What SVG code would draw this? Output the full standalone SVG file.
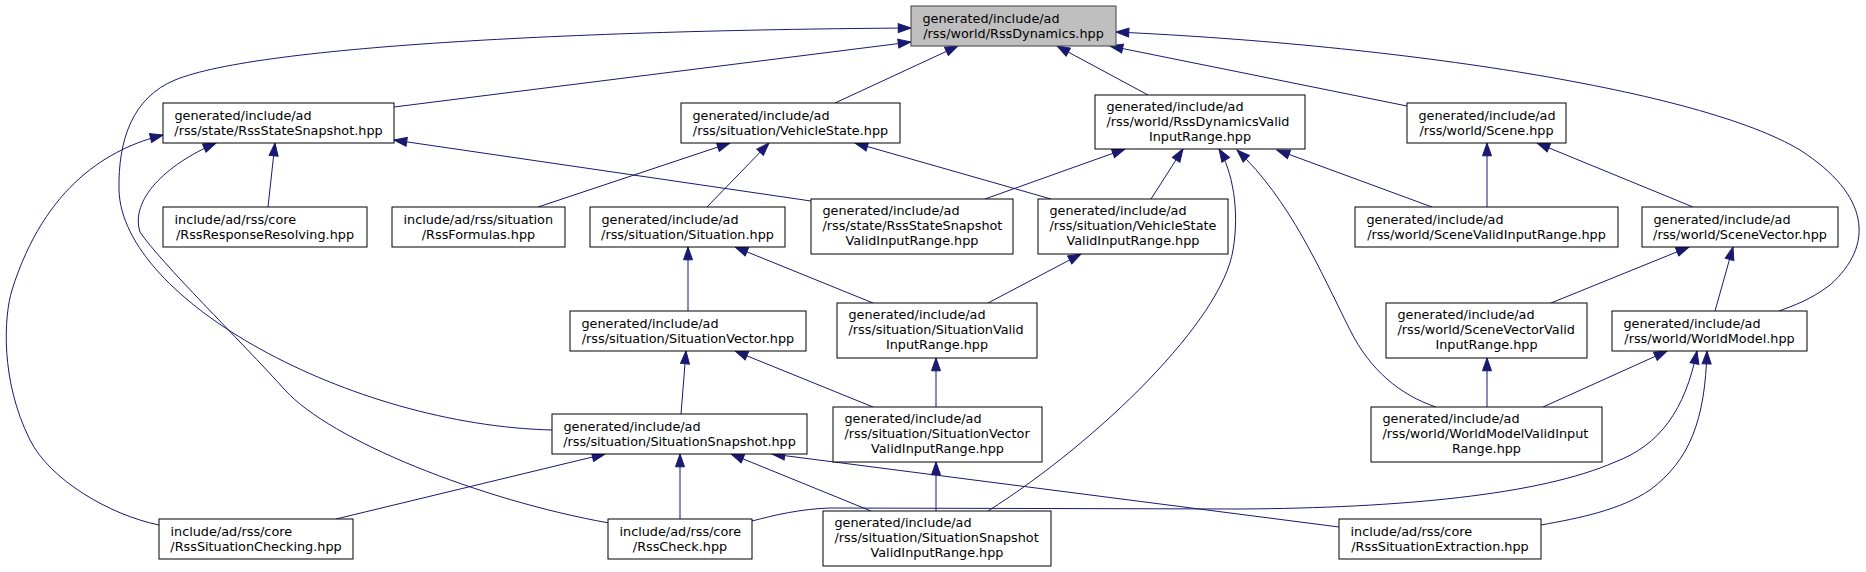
<svg xmlns="http://www.w3.org/2000/svg" width="1866" height="572" viewBox="0 0 1866 572">
<style>
.n rect{fill:#ffffff;stroke:#000000;stroke-width:1}
.n.root rect{fill:#bfbfbf;stroke:#404040}
text{font-family:"DejaVu Sans","Liberation Sans",sans-serif;font-size:12.8px;fill:#000000}
.m{text-anchor:middle}
.e path{fill:none;stroke:#191970;stroke-width:1;marker-start:url(#ah)}
</style>
<defs>
<marker id="ah" markerUnits="userSpaceOnUse" viewBox="-14 -6 15 12" refX="0" refY="0" markerWidth="15" markerHeight="12" orient="auto-start-reverse">
<path d="M0,0 L-12.8,-4.5 L-12.8,4.5 z" fill="#191970" stroke="#191970" stroke-width="1"/>
</marker>
</defs>
<rect width="1866" height="572" fill="#ffffff"/>
<g id="edges" class="e">
<path d="M911,28 C600,30 260,45 175,80 C132.5,97.5 118,140 119,190 C122,300 350,425 552,430"/>
<path d="M911,42 L394,107"/>
<path d="M958,46 L835,103"/>
<path d="M1057,46 L1148,95"/>
<path d="M1110,46 L1407,106"/>
<path d="M1116,32 C1400,45 1700,90 1800,150 C1870,195 1875,245 1830,285 C1810,300 1795,305 1779,311"/>
<path d="M275,143 L268,207"/>
<path d="M163,135 C110,148 45,185 12,290 C4,316 0,380 30,440 C50,480 110,515 159,525"/>
<path d="M216,143 C165,165 130,200 140,232 C160,262 240,340 285,390 C330,440 480,500 609,523"/>
<path d="M394,140 L811,201"/>
<path d="M730,143 L538,207"/>
<path d="M769,143 L707,207"/>
<path d="M855,143 L1051,199"/>
<path d="M1125,149 L985,199"/>
<path d="M1183,149 L1151,199"/>
<path d="M1219,149 C1232,170 1240,210 1233,250 C1222,320 1100,440 988,511"/>
<path d="M1237,150 C1290,200 1320,270 1350,330 C1370,370 1400,395 1436,407"/>
<path d="M1277,150 L1432,207"/>
<path d="M1487,143 L1487,207"/>
<path d="M1537,143 L1693,207"/>
<path d="M688,247 L688,311"/>
<path d="M735,247 L873,303"/>
<path d="M1081,254 L988,303"/>
<path d="M1689,247 L1551,303"/>
<path d="M1733,247 L1715,311"/>
<path d="M1487,358 L1487,407"/>
<path d="M686,351 L681,414"/>
<path d="M735,351 L873,407"/>
<path d="M936,358 L936,407"/>
<path d="M1667,351 L1543,407"/>
<path d="M1697,351 C1685,410 1660,445 1615,462 C1540,495 1400,508 1240,509 L830,508 C800,509 775,515 752,521"/>
<path d="M1707,351 C1705,420 1690,460 1650,490 C1620,510 1580,518 1541,525"/>
<path d="M772,454 L1339,527"/>
<path d="M605,454 L336,519"/>
<path d="M680,454 L680,519"/>
<path d="M731,454 L871,511"/>
<path d="M936,462 L936,511"/>
</g>
<g id="node1" class="n root"><rect x="911" y="6" width="205" height="40"/><text x="922.5" y="22.5">generated/include/ad</text><text class="m" x="1013.5" y="37.5">/rss/world/RssDynamics.hpp</text></g>
<g id="node2" class="n"><rect x="163" y="103" width="231" height="40"/><text x="174.5" y="119.5">generated/include/ad</text><text class="m" x="278.5" y="134.5">/rss/state/RssStateSnapshot.hpp</text></g>
<g id="node3" class="n"><rect x="681" y="103" width="219" height="40"/><text x="692.5" y="119.5">generated/include/ad</text><text class="m" x="790.5" y="134.5">/rss/situation/VehicleState.hpp</text></g>
<g id="node4" class="n"><rect x="1095" y="95" width="210" height="54"/><text x="1106.5" y="110.5">generated/include/ad</text><text x="1106.5" y="125.5">/rss/world/RssDynamicsValid</text><text class="m" x="1200" y="140.5">InputRange.hpp</text></g>
<g id="node5" class="n"><rect x="1407" y="103" width="159" height="40"/><text x="1418.5" y="119.5">generated/include/ad</text><text class="m" x="1486.5" y="134.5">/rss/world/Scene.hpp</text></g>
<g id="node6" class="n"><rect x="163" y="207" width="204" height="40"/><text x="174.5" y="223.5">include/ad/rss/core</text><text class="m" x="265" y="238.5">/RssResponseResolving.hpp</text></g>
<g id="node7" class="n"><rect x="392" y="207" width="173" height="40"/><text x="403.5" y="223.5">include/ad/rss/situation</text><text class="m" x="478.5" y="238.5">/RssFormulas.hpp</text></g>
<g id="node8" class="n"><rect x="590" y="207" width="195" height="40"/><text x="601.5" y="223.5">generated/include/ad</text><text class="m" x="687.5" y="238.5">/rss/situation/Situation.hpp</text></g>
<g id="node9" class="n"><rect x="811" y="199" width="202" height="55"/><text x="822.5" y="214.5">generated/include/ad</text><text x="822.5" y="229.5">/rss/state/RssStateSnapshot</text><text class="m" x="912" y="244.5">ValidInputRange.hpp</text></g>
<g id="node10" class="n"><rect x="1038" y="199" width="190" height="55"/><text x="1049.5" y="214.5">generated/include/ad</text><text x="1049.5" y="229.5">/rss/situation/VehicleState</text><text class="m" x="1133" y="244.5">ValidInputRange.hpp</text></g>
<g id="node11" class="n"><rect x="1355" y="207" width="263" height="40"/><text x="1366.5" y="223.5">generated/include/ad</text><text class="m" x="1486.5" y="238.5">/rss/world/SceneValidInputRange.hpp</text></g>
<g id="node12" class="n"><rect x="1642" y="207" width="196" height="40"/><text x="1653.5" y="223.5">generated/include/ad</text><text class="m" x="1740" y="238.5">/rss/world/SceneVector.hpp</text></g>
<g id="node13" class="n"><rect x="570" y="311" width="236" height="40"/><text x="581.5" y="327.5">generated/include/ad</text><text class="m" x="688" y="342.5">/rss/situation/SituationVector.hpp</text></g>
<g id="node14" class="n"><rect x="837" y="303" width="200" height="55"/><text x="848.5" y="318.5">generated/include/ad</text><text x="848.5" y="333.5">/rss/situation/SituationValid</text><text class="m" x="937" y="348.5">InputRange.hpp</text></g>
<g id="node15" class="n"><rect x="1386" y="303" width="201" height="55"/><text x="1397.5" y="318.5">generated/include/ad</text><text x="1397.5" y="333.5">/rss/world/SceneVectorValid</text><text class="m" x="1486.5" y="348.5">InputRange.hpp</text></g>
<g id="node16" class="n"><rect x="1612" y="311" width="195" height="40"/><text x="1623.5" y="327.5">generated/include/ad</text><text class="m" x="1709.5" y="342.5">/rss/world/WorldModel.hpp</text></g>
<g id="node17" class="n"><rect x="552" y="414" width="255" height="40"/><text x="563.5" y="430.5">generated/include/ad</text><text class="m" x="679.5" y="445.5">/rss/situation/SituationSnapshot.hpp</text></g>
<g id="node18" class="n"><rect x="833" y="407" width="209" height="55"/><text x="844.5" y="422.5">generated/include/ad</text><text x="844.5" y="437.5">/rss/situation/SituationVector</text><text class="m" x="937.5" y="452.5">ValidInputRange.hpp</text></g>
<g id="node19" class="n"><rect x="1371" y="407" width="231" height="55"/><text x="1382.5" y="422.5">generated/include/ad</text><text x="1382.5" y="437.5">/rss/world/WorldModelValidInput</text><text class="m" x="1486.5" y="452.5">Range.hpp</text></g>
<g id="node20" class="n"><rect x="159" y="519" width="194" height="40"/><text x="170.5" y="535.5">include/ad/rss/core</text><text class="m" x="256" y="550.5">/RssSituationChecking.hpp</text></g>
<g id="node21" class="n"><rect x="608" y="519" width="144" height="40"/><text x="619.5" y="535.5">include/ad/rss/core</text><text class="m" x="680" y="550.5">/RssCheck.hpp</text></g>
<g id="node22" class="n"><rect x="823" y="511" width="228" height="55"/><text x="834.5" y="526.5">generated/include/ad</text><text x="834.5" y="541.5">/rss/situation/SituationSnapshot</text><text class="m" x="937" y="556.5">ValidInputRange.hpp</text></g>
<g id="node23" class="n"><rect x="1339" y="519" width="202" height="40"/><text x="1350.5" y="535.5">include/ad/rss/core</text><text class="m" x="1440" y="550.5">/RssSituationExtraction.hpp</text></g>
</svg>
